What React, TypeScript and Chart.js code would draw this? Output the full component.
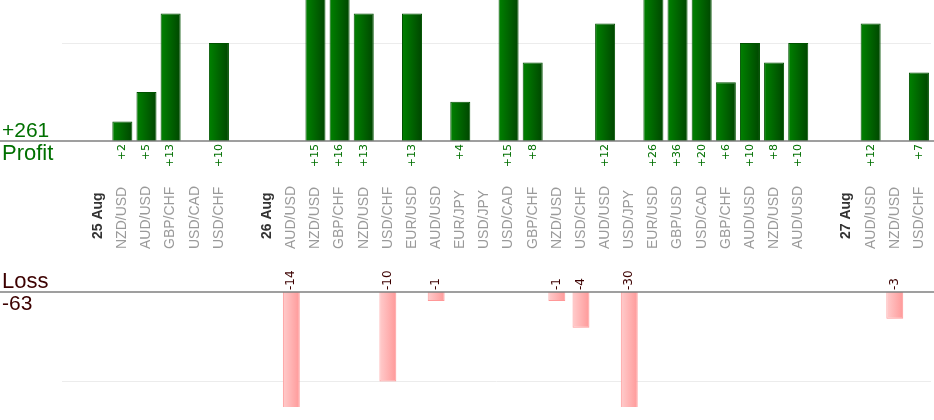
import { useEffect, useRef } from 'react'
import { Chart, registerables } from 'chart.js'

Chart.register(...registerables)

// one slot per trade, a date marker before each day, blank slots as spacers
const SLOTS = [
  '', '25 Aug', 'NZD/USD', 'AUD/USD', 'GBP/CHF', 'USD/CAD', 'USD/CHF',
  '', '26 Aug', 'AUD/USD', 'NZD/USD', 'GBP/CHF', 'NZD/USD', 'USD/CHF', 'EUR/USD',
  'AUD/USD', 'EUR/JPY', 'USD/JPY', 'USD/CAD', 'GBP/CHF', 'NZD/USD', 'USD/CHF',
  'AUD/USD', 'USD/JPY', 'EUR/USD', 'GBP/USD', 'USD/CAD', 'GBP/CHF', 'AUD/USD',
  'NZD/USD', 'AUD/USD',
  '', '27 Aug', 'AUD/USD', 'NZD/USD', 'USD/CHF',
]
const DAYS = ['25 Aug', '26 Aug', '27 Aug']

const PROFIT: (number | null)[] = [
  null, null, 2, 5, 13, null, 10,
  null, null, null, 15, 16, 13, null, 13,
  null, 4, null, 15, 8, null, null,
  12, null, 26, 36, 20, 6, 10,
  8, 10,
  null, null, 12, null, 7,
]
const LOSS: (number | null)[] = [
  null, null, null, null, null, null, null,
  null, null, -14, null, null, null, -10, null,
  -1, null, null, null, null, -1, -4,
  null, -30, null, null, null, null, null,
  null, null,
  null, null, null, -3, null,
]

const FONT = '"Liberation Sans", Arial, sans-serif'
const SMALL_FONT = '"DejaVu Sans", Verdana, sans-serif'
const GREEN_TEXT = '#007000'
const LOSS_TEXT = '#3c0000'

const PROFIT_BAR_PCT = 0.83
const LOSS_BAR_PCT = 0.7

function barGradient(from: string, to: string, pct: number) {
  return (c: any) => {
    const { chart, dataIndex } = c
    const x = chart.scales?.x
    if (!x || !chart.chartArea) return to
    const cx = x.getPixelForValue(dataIndex)
    const w = (x.width / SLOTS.length) * pct
    const g = chart.ctx.createLinearGradient(cx - w / 2, 0, cx + w / 2, 0)
    g.addColorStop(0, from)
    g.addColorStop(1, to)
    return g
  }
}

const sum = (arr: (number | null)[]) => arr.reduce<number>((a, v) => a + (v ?? 0), 0)

const labelsPlugin = {
  id: 'pnlLabels',
  afterDraw(chart: any) {
    const { ctx, scales, width } = chart
    const x = scales.x
    const p0 = scales.yP.getPixelForValue(0)
    const l0 = scales.yL.getPixelForValue(0)

    ctx.save()

    // zero lines across the whole width
    ctx.strokeStyle = '#808080'
    ctx.lineWidth = 1.5
    ctx.beginPath()
    ctx.moveTo(0, p0)
    ctx.lineTo(width, p0)
    ctx.moveTo(0, l0)
    ctx.lineTo(width, l0)
    ctx.stroke()

    // totals on the left
    ctx.font = `21px ${FONT}`
    ctx.textAlign = 'left'
    ctx.textBaseline = 'alphabetic'
    ctx.fillStyle = GREEN_TEXT
    ctx.fillText('+' + sum(PROFIT), 2, p0 - 4)
    ctx.font = `22px ${FONT}`
    ctx.fillText('Profit', 2, p0 + 19)
    ctx.fillStyle = LOSS_TEXT
    ctx.fillText('Loss', 2, l0 - 4)
    ctx.font = `21px ${FONT}`
    ctx.fillText(String(sum(LOSS)), 2, l0 + 18)

    const vertical = (text: string, px: number, py: number, align: CanvasTextAlign) => {
      ctx.save()
      ctx.translate(px, py)
      ctx.rotate(-Math.PI / 2)
      ctx.textAlign = align
      ctx.textBaseline = 'middle'
      ctx.fillText(text, 0, 0)
      ctx.restore()
    }

    SLOTS.forEach((label, i) => {
      const cx = x.getPixelForValue(i)
      if (label) {
        if (DAYS.includes(label)) {
          ctx.font = `bold 14px ${FONT}`
          ctx.fillStyle = '#333333'
          vertical(label, cx, p0 + 98, 'left')
        } else {
          ctx.font = `14px ${FONT}`
          ctx.fillStyle = '#9a9a9a'
          vertical(label, cx, p0 + 108, 'left')
        }
      }
      const p = PROFIT[i]
      if (p != null) {
        ctx.font = `11px ${SMALL_FONT}`
        ctx.fillStyle = GREEN_TEXT
        vertical('+' + p, cx, p0 + 3, 'right')
      }
      const l = LOSS[i]
      if (l != null) {
        ctx.font = `12px ${SMALL_FONT}`
        ctx.fillStyle = LOSS_TEXT
        vertical(String(l), cx, l0 - 2, 'left')
      }
    })

    ctx.restore()
  },
}

export default function App() {
  const canvasRef = useRef<HTMLCanvasElement>(null)

  useEffect(() => {
    if (!canvasRef.current) return
    const chart = new Chart(canvasRef.current, {
      type: 'bar',
      data: {
        labels: SLOTS,
        datasets: [
          {
            label: 'Profit',
            data: PROFIT,
            yAxisID: 'yP',
            grouped: false,
            clip: 0,
            barPercentage: PROFIT_BAR_PCT,
            categoryPercentage: 1,
            backgroundColor: barGradient('#008200', '#004600', PROFIT_BAR_PCT),
            borderColor: '#005200',
            borderWidth: 1,
          },
          {
            label: 'Loss',
            data: LOSS,
            yAxisID: 'yL',
            grouped: false,
            clip: 0,
            barPercentage: LOSS_BAR_PCT,
            categoryPercentage: 1,
            backgroundColor: barGradient('#ffcccc', '#ff9999', LOSS_BAR_PCT),
            borderColor: '#ff9898',
            borderWidth: 1,
          },
        ],
      },
      options: {
        responsive: false,
        animation: false,
        layout: { padding: { left: 62, right: 3, top: 0, bottom: 13 } },
        plugins: {
          legend: { display: false },
          tooltip: { enabled: false },
        },
        scales: {
          x: { display: false },
          yL: {
            position: 'left',
            stack: 'pnl',
            stackWeight: 115,
            min: -12.86,
            max: 0,
            afterBuildTicks: (s: any) => { s.ticks = [{ value: -10 }] },
            ticks: { display: false },
            grid: { color: '#ececec', drawTicks: false },
            border: { display: false },
          },
          yM: {
            position: 'left',
            stack: 'pnl',
            stackWeight: 151,
            min: 0,
            max: 1,
            ticks: { display: false },
            grid: { display: false, drawTicks: false },
            border: { display: false },
          },
          yP: {
            position: 'left',
            stack: 'pnl',
            stackWeight: 141,
            min: 0,
            max: 14.39,
            afterBuildTicks: (s: any) => { s.ticks = [{ value: 10 }] },
            ticks: { display: false },
            grid: { color: '#ececec', drawTicks: false },
            border: { display: false },
          },
        },
      } as any,
      plugins: [labelsPlugin],
    })
    return () => chart.destroy()
  }, [])

  return (
    <div style={{ position: 'fixed', left: 0, top: 0, width: 934, height: 420, background: '#fff' }}>
      <canvas ref={canvasRef} width={934} height={420} />
    </div>
  )
}
